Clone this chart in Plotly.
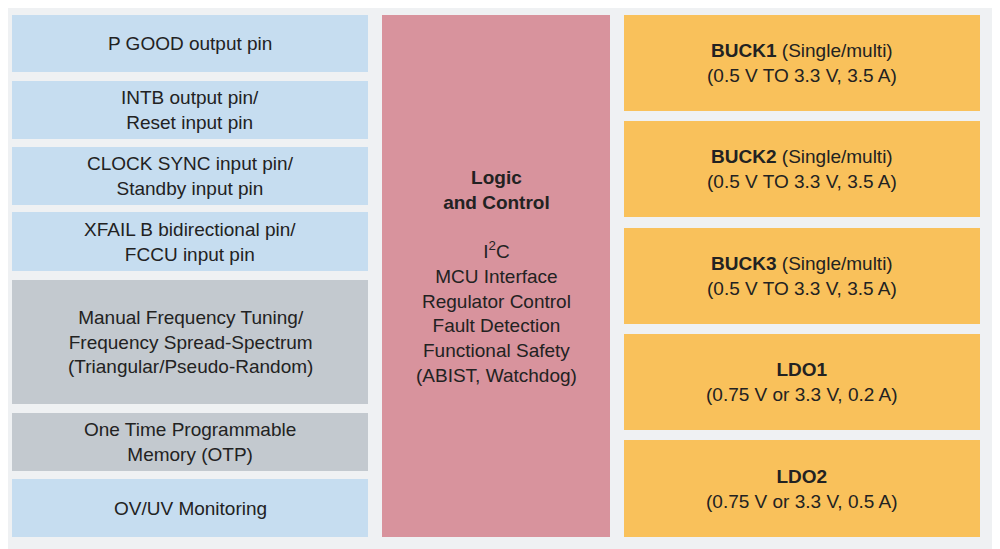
import plotly.graph_objects as go

left_labels = ["P GOOD output pin", "INTB output pin/<br>Reset input pin",
               "CLOCK SYNC input pin/<br>Standby input pin",
               "XFAIL B bidirectional pin/<br>FCCU input pin",
               "Manual Frequency Tuning/<br>Frequency Spread-Spectrum<br>(Triangular/Pseudo-Random)",
               "One Time Programmable<br>Memory (OTP)", "OV/UV Monitoring"]
left_kind = ["pin", "pin", "pin", "pin", "func", "func", "pin"]
middle_label = ("<b>Logic<br>and Control</b><br><br>I<sup>2</sup>C<br>MCU Interface<br>"
                "Regulator Control<br>Fault Detection<br>Functional Safety<br>(ABIST, Watchdog)")
right_names = ["BUCK1", "BUCK2", "BUCK3", "LDO1", "LDO2"]
right_suffix = [" (Single/multi)", " (Single/multi)", " (Single/multi)", "", ""]
right_specs = ["(0.5 V TO 3.3 V, 3.5 A)", "(0.5 V TO 3.3 V, 3.5 A)", "(0.5 V TO 3.3 V, 3.5 A)",
               "(0.75 V or 3.3 V, 0.2 A)", "(0.75 V or 3.3 V, 0.5 A)"]

# layout geometry (pixels)
left_rows = [(15, 72), (81, 139), (147, 205), (212, 271), (280, 404), (413, 471), (479, 537)]
right_rows = [(15, 111), (121, 217), (228, 324), (334, 430), (440, 537)]
colors = {"pin": "#c6ddf0", "func": "#c3c9cf"}

fig = go.Figure()
font = dict(family="Liberation Sans, Arial", size=19, color="#222222")

def box(x0, x1, y0, y1, color, text):
    fig.add_shape(type="rect", x0=x0, x1=x1, y0=y0, y1=y1, fillcolor=color,
                  line=dict(width=0), xref="x", yref="y", layer="below")
    fig.add_annotation(x=(x0 + x1) / 2, y=(y0 + y1) / 2, text=text, showarrow=False,
                       font=font, xref="x", yref="y", align="center")

for lab, kind, (y0, y1) in zip(left_labels, left_kind, left_rows):
    box(12, 368, y0, y1, colors[kind], lab)
box(382, 610, 15, 537, "#d8939d", middle_label)
for n, s, sp, (y0, y1) in zip(right_names, right_suffix, right_specs, right_rows):
    box(624, 980, y0, y1, "#f9c15b", f"<b>{n}</b>{s}<br>{sp}")

fig.update_xaxes(range=[8, 1008], visible=False, fixedrange=True)
fig.update_yaxes(range=[557, 8], visible=False, fixedrange=True)
fig.update_layout(width=1000, height=549, margin=dict(l=0, r=0, t=0, b=0),
                  paper_bgcolor="#eff1f3", plot_bgcolor="#eff1f3", showlegend=False)
fig.write_html("out.html")
